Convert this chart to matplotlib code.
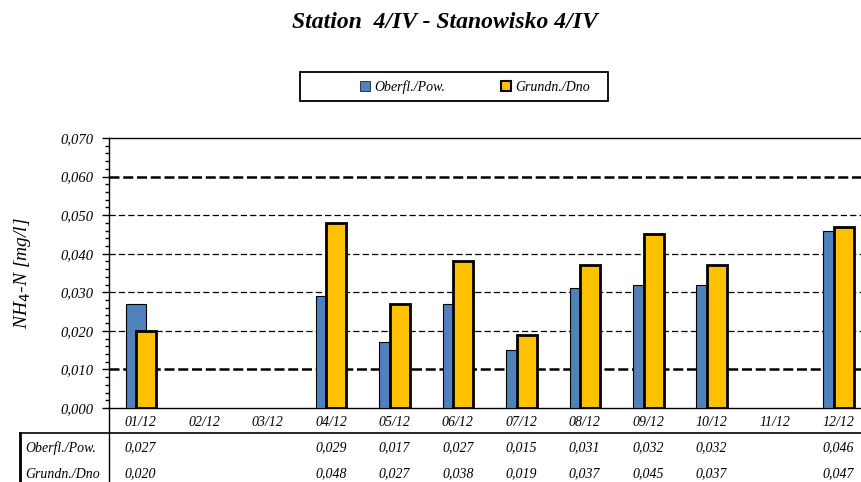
import matplotlib
matplotlib.use("Agg")
import matplotlib.pyplot as plt
import matplotlib.transforms as mtransforms
from matplotlib.lines import Line2D
from matplotlib.patches import Patch, Rectangle
import numpy as np

categories = ["01/12", "02/12", "03/12", "04/12", "05/12", "06/12",
              "07/12", "08/12", "09/12", "10/12", "11/12", "12/12"]
surface = [0.027, None, None, 0.029, 0.017, 0.027, 0.015, 0.031, 0.032, 0.032, None, 0.046]
bottom = [0.020, None, None, 0.048, 0.027, 0.038, 0.019, 0.037, 0.045, 0.037, None, 0.047]
yticks = [0.0, 0.01, 0.02, 0.03, 0.04, 0.05, 0.06, 0.07]
series_names = ["Oberfl./Pow.", "Grundn./Dno"]
title = "Station  4/IV - Stanowisko 4/IV"

FONT = "Liberation Serif"
W, H = 862, 482
fig = plt.figure(figsize=(W / 100, H / 100), dpi=100)
fig.patch.set_facecolor("white")

left_px, right_px, top_px, bot_px = 109, 870, 138, 408
ax = fig.add_axes([left_px / W, (H - bot_px) / H, (right_px - left_px) / W, (bot_px - top_px) / H])
ax.set_facecolor("white")

x = np.arange(len(categories))
blue = "#4F81BD"
yellow = "#FFC000"
for i in range(len(categories)):
    if surface[i] is not None:
        ax.bar(x[i] - 0.079, surface[i], width=0.316, color=blue, edgecolor="black",
               linewidth=0.8, zorder=3)
    if bottom[i] is not None:
        ax.bar(x[i] + 0.087, bottom[i], width=0.315, color=yellow, edgecolor="black",
               linewidth=2.0, zorder=4)

ax.set_xlim(-0.5, len(categories) - 0.5)
ax.set_ylim(0, 0.07)

# gridlines
for v in yticks[1:-1]:
    if v in (0.01, 0.06):
        ax.axhline(v, color="black", linewidth=1.8, dashes=(4, 1.5), zorder=1)
    else:
        ax.axhline(v, color="black", linewidth=0.9, dashes=(5, 2.5), zorder=1)

ax.set_yticks(yticks)
ax.set_yticklabels([f"{v:.3f}".replace(".", ",") for v in yticks],
                   fontfamily=FONT, fontstyle="italic", fontsize=10.5)
ax.set_yticks(np.arange(0, 0.0701, 0.002), minor=True)
ax.tick_params(axis="y", which="major", length=5, width=1, direction="out", pad=6)
ax.tick_params(axis="y", which="minor", length=3, width=1, direction="out")
ax.set_xticks(x)
ax.set_xticklabels(categories, fontfamily=FONT, fontstyle="italic", fontsize=10)
ax.tick_params(axis="x", length=0, pad=6)

for s in ["left", "top", "bottom"]:
    ax.spines[s].set_linewidth(1.0)
    ax.spines[s].set_color("black")
ax.spines["right"].set_visible(False)

ax.set_ylabel("NH$_4$-N [mg/l]", fontfamily=FONT, fontstyle="italic", fontsize=14)
ax.yaxis.set_label_coords(-0.100, 0.5)

fig.text(445 / W, 1 - 23 / H, title, ha="center", va="center", fontfamily=FONT,
         fontstyle="italic", fontweight="bold", fontsize=17)

# legend box
fig.add_artist(Rectangle((300 / W, 1 - 101 / H), 308 / W, 29 / H, transform=fig.transFigure,
                         facecolor="white", edgecolor="black", linewidth=1.3, zorder=0))
handles = [Patch(facecolor=blue, edgecolor="black", linewidth=0.5),
           Patch(facecolor=yellow, edgecolor="black", linewidth=1.5)]
leg = fig.legend(handles, series_names, loc="center", bbox_to_anchor=(475 / W, 1 - 87 / H),
                 ncol=2, frameon=False,
                 prop={"family": FONT, "style": "italic", "size": 10},
                 handlelength=0.7, handleheight=0.7, handletextpad=0.3, columnspacing=4.07,
                 borderpad=0.4)

# data table
table_top = 433
fig.add_artist(Line2D([20 / W, 1], [1 - table_top / H] * 2, color="black", linewidth=1.2,
                      transform=fig.transFigure))
fig.add_artist(Line2D([20 / W, 20 / W], [1 - table_top / H, 0], color="black", linewidth=2,
                      transform=fig.transFigure))
fig.add_artist(Line2D([left_px / W, left_px / W], [1 - bot_px / H, 0], color="black",
                      linewidth=1.0, transform=fig.transFigure))
trans = mtransforms.blended_transform_factory(ax.transData, fig.transFigure)
row_y = [1 - 448 / H, 1 - 474 / H]
for r, (name, vals) in enumerate(zip(series_names, [surface, bottom])):
    fig.text(25 / W, row_y[r], name, ha="left", va="center", fontfamily=FONT,
             fontstyle="italic", fontsize=10)
    for i, v in enumerate(vals):
        if v is not None:
            ax.text(x[i], row_y[r], f"{v:.3f}".replace(".", ","), transform=trans,
                    ha="center", va="center", fontfamily=FONT, fontstyle="italic",
                    fontsize=10, clip_on=False)

fig.savefig("out.png", dpi=100)
